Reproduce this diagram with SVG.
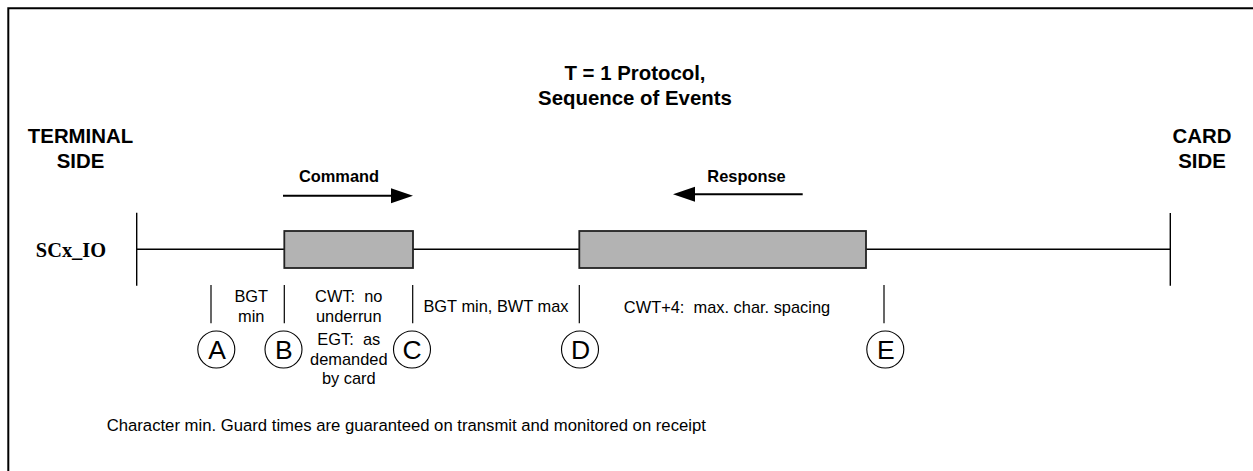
<svg xmlns="http://www.w3.org/2000/svg" width="1253" height="471" viewBox="0 0 1253 471">
<defs>
<style>
.t{font-family:"Liberation Sans",Arial,sans-serif;fill:#000}
.b{font-weight:bold}
.big{font-size:20.4px}
.mid{font-size:16.4px}
.note{font-size:16.7px}
.pre{white-space:pre}
.circ{font-size:26.5px}
.ser{font-family:"Liberation Serif","Times New Roman",serif;font-weight:bold;font-size:20.4px;fill:#000}
.ln{stroke:#000;fill:none}
.tick{stroke:#000;stroke-width:1.2;fill:none}
.box{fill:#b3b3b3;stroke:#222;stroke-width:1.8}
.mk{fill:#fff;stroke:#000;stroke-width:1.1}
</style>
<marker id="ah" markerUnits="userSpaceOnUse" markerWidth="22" markerHeight="15" refX="0" refY="7.5" orient="auto" overflow="visible">
<path d="M0,0 L22,7.5 L0,15 Z" fill="#000"/>
</marker>
</defs>
<rect x="0" y="0" width="1253" height="471" fill="#fff"/>
<path d="M8.3,471 V8.3 H1253" fill="none" stroke="#000" stroke-width="2"/>

<g id="title">
<text class="t b big" x="635" y="80" text-anchor="middle">T = 1 Protocol,</text>
<text class="t b big" x="635" y="104.5" text-anchor="middle">Sequence of Events</text>
</g>
<g id="terminal-side">
<text class="t b big" x="80.5" y="143" text-anchor="middle">TERMINAL</text>
<text class="t b big" x="80.5" y="167.5" text-anchor="middle">SIDE</text>
</g>
<g id="card-side">
<text class="t b big" x="1202" y="143" text-anchor="middle">CARD</text>
<text class="t b big" x="1202" y="167.5" text-anchor="middle">SIDE</text>
</g>
<g id="scx-io">
<text class="ser" x="71" y="256.7" text-anchor="middle">SCx_IO</text>
</g>

<g id="timeline">
<line class="ln" x1="136.7" y1="249.3" x2="1170.3" y2="249.3" stroke-width="1.4"/>
<line class="ln" x1="136.7" y1="212.7" x2="136.7" y2="285.7" stroke-width="1.4"/>
<line class="ln" x1="1170.3" y1="213" x2="1170.3" y2="285.7" stroke-width="1.4"/>
</g>

<g id="command-block">
<rect class="box" x="284.3" y="231" width="128.7" height="37"/>
<text class="t b mid" x="339" y="181.5" text-anchor="middle">Command</text>
</g>
<g id="response-block">
<rect class="box" x="579.3" y="231" width="286.7" height="37"/>
<text class="t b mid" x="746.5" y="181.5" text-anchor="middle">Response</text>
</g>

<g id="connectors">
<line class="ln" x1="283" y1="195.7" x2="391" y2="195.7" stroke-width="2" marker-end="url(#ah)"/>
<line class="ln" x1="802.7" y1="194.3" x2="695" y2="194.3" stroke-width="2" marker-end="url(#ah)"/>
</g>

<g id="ticks">
<line class="tick" x1="211" y1="285" x2="211" y2="323.3"/>
<line class="tick" x1="284.3" y1="285" x2="284.3" y2="323.3"/>
<line class="tick" x1="412.7" y1="285" x2="412.7" y2="323.3"/>
<line class="tick" x1="579.3" y1="285" x2="579.3" y2="323.3"/>
<line class="tick" x1="884" y1="285" x2="884" y2="323.3"/>
</g>

<g id="marker-a">
<circle class="mk" cx="216.3" cy="349.5" r="18.5"/>
<text class="t circ" x="217" y="358.5" text-anchor="middle">A</text>
</g>
<g id="marker-b">
<circle class="mk" cx="283.5" cy="349.5" r="18.5"/>
<text class="t circ" x="283.8" y="358.5" text-anchor="middle">B</text>
</g>
<g id="marker-c">
<circle class="mk" cx="412" cy="349.5" r="18.5"/>
<text class="t circ" x="412" y="358.5" text-anchor="middle">C</text>
</g>
<g id="marker-d">
<circle class="mk" cx="580" cy="349.5" r="18.5"/>
<text class="t circ" x="580.5" y="358.5" text-anchor="middle">D</text>
</g>
<g id="marker-e">
<circle class="mk" cx="885.3" cy="349.5" r="18.5"/>
<text class="t circ" x="885.8" y="358.5" text-anchor="middle">E</text>
</g>

<g id="labels">
<text class="t mid" x="251.3" y="302.3" text-anchor="middle">BGT</text>
<text class="t mid" x="251.3" y="321.8" text-anchor="middle">min</text>
<text class="t mid pre" x="348.8" y="302.3" text-anchor="middle">CWT:  no</text>
<text class="t mid" x="348.8" y="321.8" text-anchor="middle">underrun</text>
<text class="t mid pre" x="348.8" y="345" text-anchor="middle">EGT:  as</text>
<text class="t mid" x="348.8" y="364.6" text-anchor="middle">demanded</text>
<text class="t mid" x="348.8" y="384.2" text-anchor="middle">by card</text>
<text class="t mid" x="496" y="312.3" text-anchor="middle">BGT min, BWT max</text>
<text class="t mid pre" x="727" y="312.5" text-anchor="middle">CWT+4:  max. char. spacing</text>
</g>

<g id="note">
<text class="t note" x="106.7" y="431.3">Character min. Guard times are guaranteed on transmit and monitored on receipt</text>
</g>
</svg>
